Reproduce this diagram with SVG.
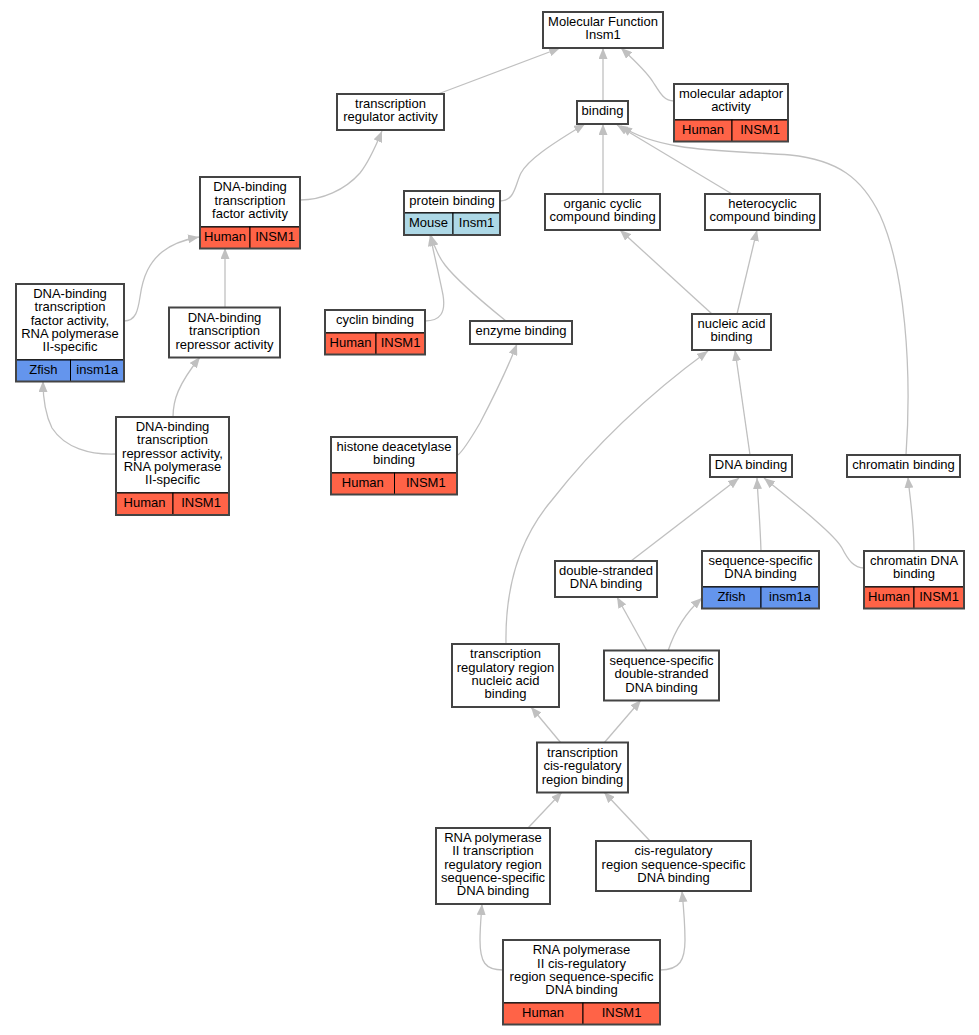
<svg xmlns="http://www.w3.org/2000/svg" width="979" height="1035" viewBox="0 0 979 1035">
<defs>
<marker id="a" viewBox="0 0 11 9" refX="11" refY="4.5" markerWidth="11" markerHeight="9" orient="auto" markerUnits="userSpaceOnUse"><path d="M0,0 L11,4.5 L0,9 z" fill="#c0c0c0"/></marker>
</defs>
<style>
text{font-family:"Liberation Sans",Arial,sans-serif;font-size:13px;text-anchor:middle;fill:#000}
.b{fill:#fff;stroke:#444;stroke-width:2}
.o{fill:none;stroke:#444;stroke-width:2}
.h{fill:#ff6347;stroke:#000;stroke-width:1}
.z{fill:#6495ed;stroke:#000;stroke-width:1}
.m{fill:#add8e6;stroke:#000;stroke-width:1}
#edges path{fill:none;stroke:#c0c0c0;stroke-width:1.3;marker-end:url(#a)}
</style>
<rect width="979" height="1035" fill="#fff"/>
<g id="edges">
<path d="M438,94 L560,48"/>
<path d="M603,101 L603,48"/>
<path d="M674,101 C664,101 660,93 653,82 C646,71 634,60 621,48"/>
<path d="M300,200 C322,200 345,190 360,173 C368,163 375,148 382,131"/>
<path d="M500,201 C515,201 515,185 521,173 C528,160 550,145 585,124"/>
<path d="M603,194 L603,124"/>
<path d="M732,194 L617,125"/>
<path d="M906,455 C912,370 905,270 880,215 C862,178 838,160 790,155 C720,150 660,152 621,126"/>
<path d="M124,321 C136,321 138,310 140,297 C143,275 150,262 162,252 C172,244 182,240 199,237"/>
<path d="M225,307 L225,248"/>
<path d="M116,454 C90,455 65,448 52,428 C46,416 43,400 43,381"/>
<path d="M173,417 C173,400 178,385 200,357"/>
<path d="M425,321 C440,321 446,313 443,295 C440,280 435,258 430,235"/>
<path d="M506,321 C485,304 458,282 445,265 C438,256 434,246 431,235"/>
<path d="M458,455 C464,450 470,440 480,423 C492,400 505,375 517,344"/>
<path d="M712,314 L620,230"/>
<path d="M737,314 L757,230"/>
<path d="M750,455 L735,350"/>
<path d="M506,644 C505,590 518,540 552,500 C595,445 648,395 708,351"/>
<path d="M631,561 L739,478"/>
<path d="M761,551 C760,520 758,500 757,478"/>
<path d="M864,568 C854,568 848,560 842,548 C835,535 800,507 764,478"/>
<path d="M914,551 C914,520 910,500 908,477"/>
<path d="M647,651 L617,597"/>
<path d="M668,651 C674,633 683,615 702,598"/>
<path d="M561,743 L531,707"/>
<path d="M604,743 L641,700"/>
<path d="M528,828 L562,792"/>
<path d="M650,841 L604,792"/>
<path d="M503,970 C485,970 480,962 480,940 C480,928 481,918 482,904"/>
<path d="M660,970 C680,970 685,960 685,940 C685,925 684,912 682,891"/>
</g>
<g id="mf"><rect class="b" x="543" y="12" width="120" height="36"/><text x="603" y="26">Molecular Function</text><text x="603" y="39.4">Insm1</text></g>
<g id="tra"><rect class="b" x="337" y="94" width="107" height="36"/><text x="390.5" y="108">transcription</text><text x="390.5" y="121.4">regulator activity</text></g>
<g id="binding"><rect class="b" x="577" y="101" width="51" height="23"/><text x="602.5" y="115.2">binding</text></g>
<g id="mad"><rect class="b" x="674" y="84" width="114" height="36"/><text x="731" y="98">molecular adaptor</text><text x="731" y="111.4">activity</text><rect class="h" x="674" y="120" width="58" height="21.5"/><rect class="h" x="732" y="120" width="56" height="21.5"/><text x="703" y="133.5">Human</text><text x="760" y="133.5">INSM1</text><rect class="o" x="674" y="84" width="114" height="57.5"/></g>
<g id="dbtf"><rect class="b" x="200" y="177" width="100" height="50"/><text x="250" y="191.4">DNA-binding</text><text x="250" y="204.7">transcription</text><text x="250" y="218">factor activity</text><rect class="h" x="200" y="227" width="50" height="21.5"/><rect class="h" x="250" y="227" width="50" height="21.5"/><text x="225" y="240.5">Human</text><text x="275" y="240.5">INSM1</text><rect class="o" x="200" y="177" width="100" height="71.5"/></g>
<g id="pb"><rect class="b" x="404" y="191" width="96" height="22"/><text x="452" y="204.7">protein binding</text><rect class="m" x="404" y="213" width="49" height="22"/><rect class="m" x="453" y="213" width="47" height="22"/><text x="428.5" y="226.7">Mouse</text><text x="476.5" y="226.7">Insm1</text><rect class="o" x="404" y="191" width="96" height="44"/></g>
<g id="occ"><rect class="b" x="545" y="194" width="115" height="36"/><text x="602.5" y="208">organic cyclic</text><text x="602.5" y="221.4">compound binding</text></g>
<g id="hcc"><rect class="b" x="705" y="194" width="115" height="36"/><text x="762.5" y="208">heterocyclic</text><text x="762.5" y="221.4">compound binding</text></g>
<g id="dbtf2"><rect class="b" x="16" y="284" width="108" height="76"/><text x="70" y="298.1">DNA-binding</text><text x="70" y="311.4">transcription</text><text x="70" y="324.7">factor activity,</text><text x="70" y="338">RNA polymerase</text><text x="70" y="351.3">II-specific</text><rect class="z" x="16" y="360" width="54.5" height="21.5"/><rect class="z" x="70.5" y="360" width="53.5" height="21.5"/><text x="43.3" y="373.5">Zfish</text><text x="97.3" y="373.5">insm1a</text><rect class="o" x="16" y="284" width="108" height="97.5"/></g>
<g id="dbtr"><rect class="b" x="169" y="307.5" width="111" height="50"/><text x="224.5" y="321.9">DNA-binding</text><text x="224.5" y="335.2">transcription</text><text x="224.5" y="348.5">repressor activity</text></g>
<g id="cyc"><rect class="b" x="325" y="310" width="100" height="23"/><text x="375" y="324.2">cyclin binding</text><rect class="h" x="325" y="333" width="51" height="21.5"/><rect class="h" x="376" y="333" width="49" height="21.5"/><text x="350.5" y="346.5">Human</text><text x="400.5" y="346.5">INSM1</text><rect class="o" x="325" y="310" width="100" height="44.5"/></g>
<g id="enz"><rect class="b" x="470" y="321" width="102" height="23"/><text x="521" y="335.2">enzyme binding</text></g>
<g id="nab"><rect class="b" x="692" y="314" width="79" height="36"/><text x="731.5" y="328">nucleic acid</text><text x="731.5" y="341.4">binding</text></g>
<g id="dbtr2"><rect class="b" x="116" y="417" width="113" height="76"/><text x="172.5" y="431.1">DNA-binding</text><text x="172.5" y="444.4">transcription</text><text x="172.5" y="457.7">repressor activity,</text><text x="172.5" y="471">RNA polymerase</text><text x="172.5" y="484.3">II-specific</text><rect class="h" x="116" y="493" width="57" height="22"/><rect class="h" x="173" y="493" width="56" height="22"/><text x="144.5" y="506.7">Human</text><text x="201" y="506.7">INSM1</text><rect class="o" x="116" y="417" width="113" height="98"/></g>
<g id="hdb"><rect class="b" x="331" y="437" width="126" height="36"/><text x="394" y="451">histone deacetylase</text><text x="394" y="464.4">binding</text><rect class="h" x="331" y="473" width="63.5" height="21.5"/><rect class="h" x="394.5" y="473" width="62.5" height="21.5"/><text x="362.8" y="486.5">Human</text><text x="425.8" y="486.5">INSM1</text><rect class="o" x="331" y="437" width="126" height="57.5"/></g>
<g id="dna"><rect class="b" x="710" y="455" width="82" height="22"/><text x="751" y="468.7">DNA binding</text></g>
<g id="chb"><rect class="b" x="847" y="455" width="113" height="22"/><text x="903.5" y="468.7">chromatin binding</text></g>
<g id="dsd"><rect class="b" x="555" y="561" width="102" height="36"/><text x="606" y="575">double-stranded</text><text x="606" y="588.4">DNA binding</text></g>
<g id="ssd"><rect class="b" x="702" y="551" width="117" height="36"/><text x="760.5" y="565">sequence-specific</text><text x="760.5" y="578.4">DNA binding</text><rect class="z" x="702" y="587" width="59" height="21.5"/><rect class="z" x="761" y="587" width="58" height="21.5"/><text x="731.5" y="600.5">Zfish</text><text x="790" y="600.5">insm1a</text><rect class="o" x="702" y="551" width="117" height="57.5"/></g>
<g id="cdb"><rect class="b" x="864" y="551" width="100" height="36"/><text x="914" y="565">chromatin DNA</text><text x="914" y="578.4">binding</text><rect class="h" x="864" y="587" width="50" height="21.5"/><rect class="h" x="914" y="587" width="50" height="21.5"/><text x="889" y="600.5">Human</text><text x="939" y="600.5">INSM1</text><rect class="o" x="864" y="551" width="100" height="57.5"/></g>
<g id="trnab"><rect class="b" x="452" y="644" width="107" height="63"/><text x="505.5" y="658.3">transcription</text><text x="505.5" y="671.6">regulatory region</text><text x="505.5" y="684.9">nucleic acid</text><text x="505.5" y="698.2">binding</text></g>
<g id="ssds"><rect class="b" x="604" y="650.5" width="115" height="50"/><text x="661.5" y="664.9">sequence-specific</text><text x="661.5" y="678.2">double-stranded</text><text x="661.5" y="691.5">DNA binding</text></g>
<g id="tcrb"><rect class="b" x="537" y="742.5" width="91" height="50"/><text x="582.5" y="756.9">transcription</text><text x="582.5" y="770.2">cis-regulatory</text><text x="582.5" y="783.5">region binding</text></g>
<g id="rp2tr"><rect class="b" x="436" y="828" width="114" height="76"/><text x="493" y="842.1">RNA polymerase</text><text x="493" y="855.4">II transcription</text><text x="493" y="868.7">regulatory region</text><text x="493" y="882">sequence-specific</text><text x="493" y="895.3">DNA binding</text></g>
<g id="crss"><rect class="b" x="596" y="841" width="155" height="50"/><text x="673.5" y="855.4">cis-regulatory</text><text x="673.5" y="868.7">region sequence-specific</text><text x="673.5" y="882">DNA binding</text></g>
<g id="rp2cr"><rect class="b" x="503" y="940" width="157" height="63"/><text x="581.5" y="954.3">RNA polymerase</text><text x="581.5" y="967.6">II cis-regulatory</text><text x="581.5" y="980.9">region sequence-specific</text><text x="581.5" y="994.2">DNA binding</text><rect class="h" x="503" y="1003" width="80" height="21.5"/><rect class="h" x="583" y="1003" width="77" height="21.5"/><text x="543" y="1016.5">Human</text><text x="621.5" y="1016.5">INSM1</text><rect class="o" x="503" y="940" width="157" height="84.5"/></g>
</svg>
